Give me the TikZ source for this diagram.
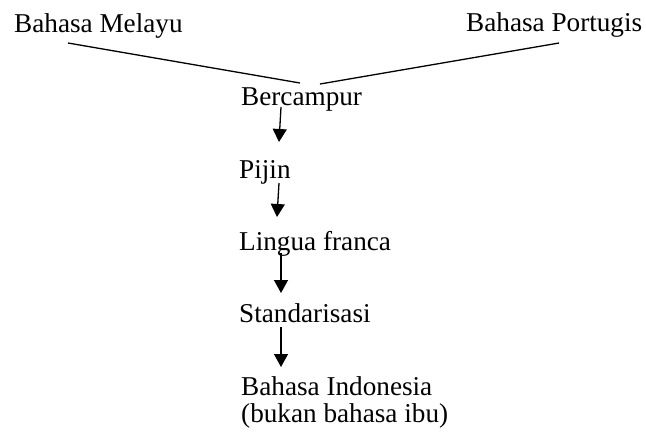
\documentclass[tikz,border=0pt]{standalone}
\usepackage{fontspec}
\setmainfont{Liberation Serif}
\usetikzlibrary{arrows.meta}
\begin{document}
\begin{tikzpicture}[x=1pt,y=-1pt,
  lbl/.style={anchor=base west,inner sep=0pt,font=\fontsize{27.2}{30}\selectfont},
  ln/.style={line width=1.3pt},
  arr/.style={line width=1.3pt,-{Triangle[width=14pt,length=13pt]}}]
\useasboundingbox (0,0) rectangle (646,440);
\node[lbl] (melayu) at (14,32) {Bahasa Melayu};
\node[lbl] (portugis) at (466,31) {Bahasa Portugis};
\node[lbl] (bercampur) at (241,105) {Bercampur};
\node[lbl] (pijin) at (239,178) {Pijin};
\node[lbl] (lingua) at (239,250) {Lingua franca};
\node[lbl] (standar) at (239,322) {Standarisasi};
\node[lbl] (indo) at (241,395) {Bahasa Indonesia};
\node[lbl] (bukan) at (241,422) {(bukan bahasa ibu)};
\coordinate (m1) at (68,43);
\coordinate (m2) at (300,83);
\coordinate (p1) at (559,43);
\coordinate (p2) at (320,84);
\draw[ln] (m1) -- (m2);
\draw[ln] (p1) -- (p2);
\coordinate (a1s) at (281,107); \coordinate (a1e) at (279,142);
\coordinate (a2s) at (279,183); \coordinate (a2e) at (277,217);
\coordinate (a3s) at (281,253); \coordinate (a3e) at (281,293);
\coordinate (a4s) at (281,327); \coordinate (a4e) at (281,367);
\draw[arr] (a1s) -- (a1e);
\draw[arr] (a2s) -- (a2e);
\draw[arr] (a3s) -- (a3e);
\draw[arr] (a4s) -- (a4e);
\end{tikzpicture}
\end{document}
